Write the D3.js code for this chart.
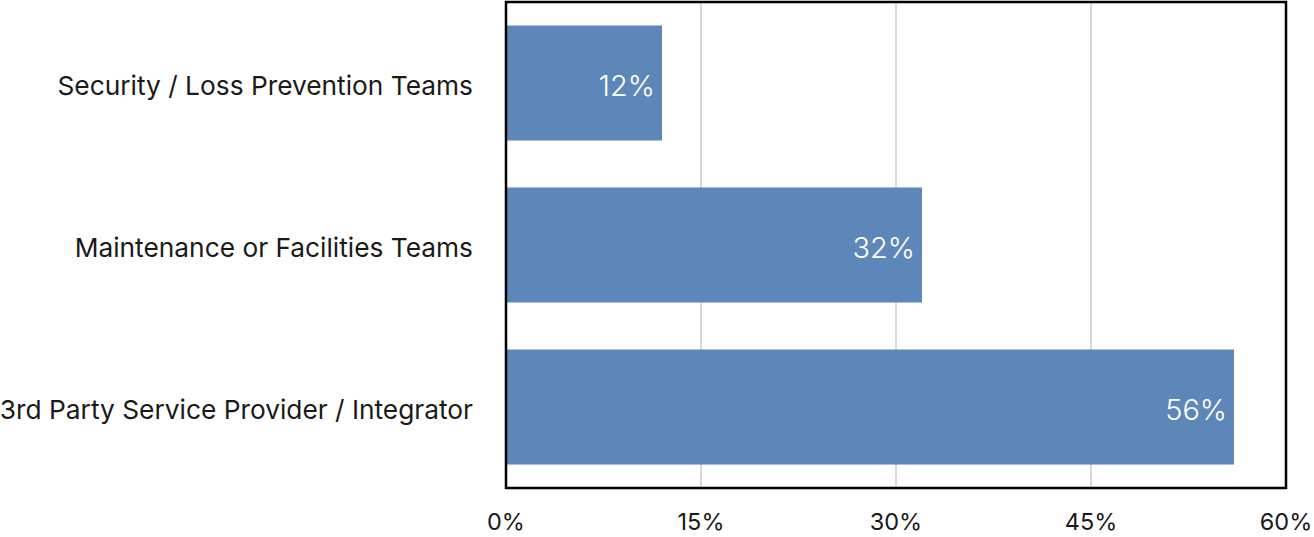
<!DOCTYPE html>
<html>
<head>
<meta charset="utf-8">
<script src="https://cdn.jsdelivr.net/npm/d3@7"></script>
<style>
  body { margin: 0; background: #fff; }
  text { font-family: Inter, "Noto Sans", sans-serif; }
</style>
</head>
<body>
<div id="chart"></div>
<script>
// Chart data
let categories = [
    "Security / Loss Prevention Teams",
    "Maintenance or Facilities Teams",
    "3rd Party Service Provider / Integrator"
];
let values = [12, 32, 56];
let tickValues = [0, 15, 30, 45, 60];

// Dimensions
let width = 1314,
    height = 537,
    margin = { top: 2, right: 28, bottom: 49, left: 506 },
    plotWidth = width - margin.left - margin.right,
    plotHeight = height - margin.top - margin.bottom;

let svg = d3.select("#chart").append("svg")
    .attr("width", width)
    .attr("height", height);

let g = svg.append("g")
    .attr("transform", "translate(" + margin.left + "," + margin.top + ")");

// Scales
let x = d3.scaleLinear().domain([0, 60]).range([0, plotWidth]);
let y = d3.scaleBand().domain(categories).range([0, plotHeight])
    .paddingInner(0.29)
    .paddingOuter(0.145);

// Gridlines
g.selectAll(".grid")
    .data(tickValues.slice(1, -1))
    .enter().append("line")
    .attr("x1", d => x(d))
    .attr("x2", d => x(d))
    .attr("y1", 0)
    .attr("y2", plotHeight)
    .attr("stroke", "#cccccc")
    .attr("stroke-width", 1.5);

// Bars
g.selectAll(".bar")
    .data(values)
    .enter().append("rect")
    .attr("x", 0)
    .attr("y", (d, i) => y(categories[i]))
    .attr("width", d => x(d))
    .attr("height", y.bandwidth())
    .attr("fill", "#5e87b9");

// Value labels inside bars
g.selectAll(".value")
    .data(values)
    .enter().append("text")
    .attr("x", d => x(d) - 7)
    .attr("y", (d, i) => y(categories[i]) + y.bandwidth() / 2)
    .attr("dy", "0.46em")
    .attr("text-anchor", "end")
    .attr("fill", "#fff")
    .style("font-size", "29px")
    .style("font-weight", 300)
    .text(d => d + "%");

// Frame
g.append("rect")
    .attr("x", 0)
    .attr("y", 0)
    .attr("width", plotWidth)
    .attr("height", plotHeight)
    .attr("fill", "none")
    .attr("stroke", "#000")
    .attr("stroke-width", 2.5);

// Category labels
g.selectAll(".cat")
    .data(categories)
    .enter().append("text")
    .attr("x", -33)
    .attr("y", d => y(d) + y.bandwidth() / 2)
    .attr("dy", "0.44em")
    .attr("text-anchor", "end")
    .attr("fill", "#1a1a1a")
    .style("font-size", "26.3px")
    .text(d => d);

// X axis labels
g.selectAll(".tick-label")
    .data(tickValues)
    .enter().append("text")
    .attr("x", d => x(d))
    .attr("y", plotHeight + 42)
    .attr("text-anchor", "middle")
    .attr("fill", "#1a1a1a")
    .style("font-size", "23.5px")
    .text(d => d + "%");
</script>
</body>
</html>
